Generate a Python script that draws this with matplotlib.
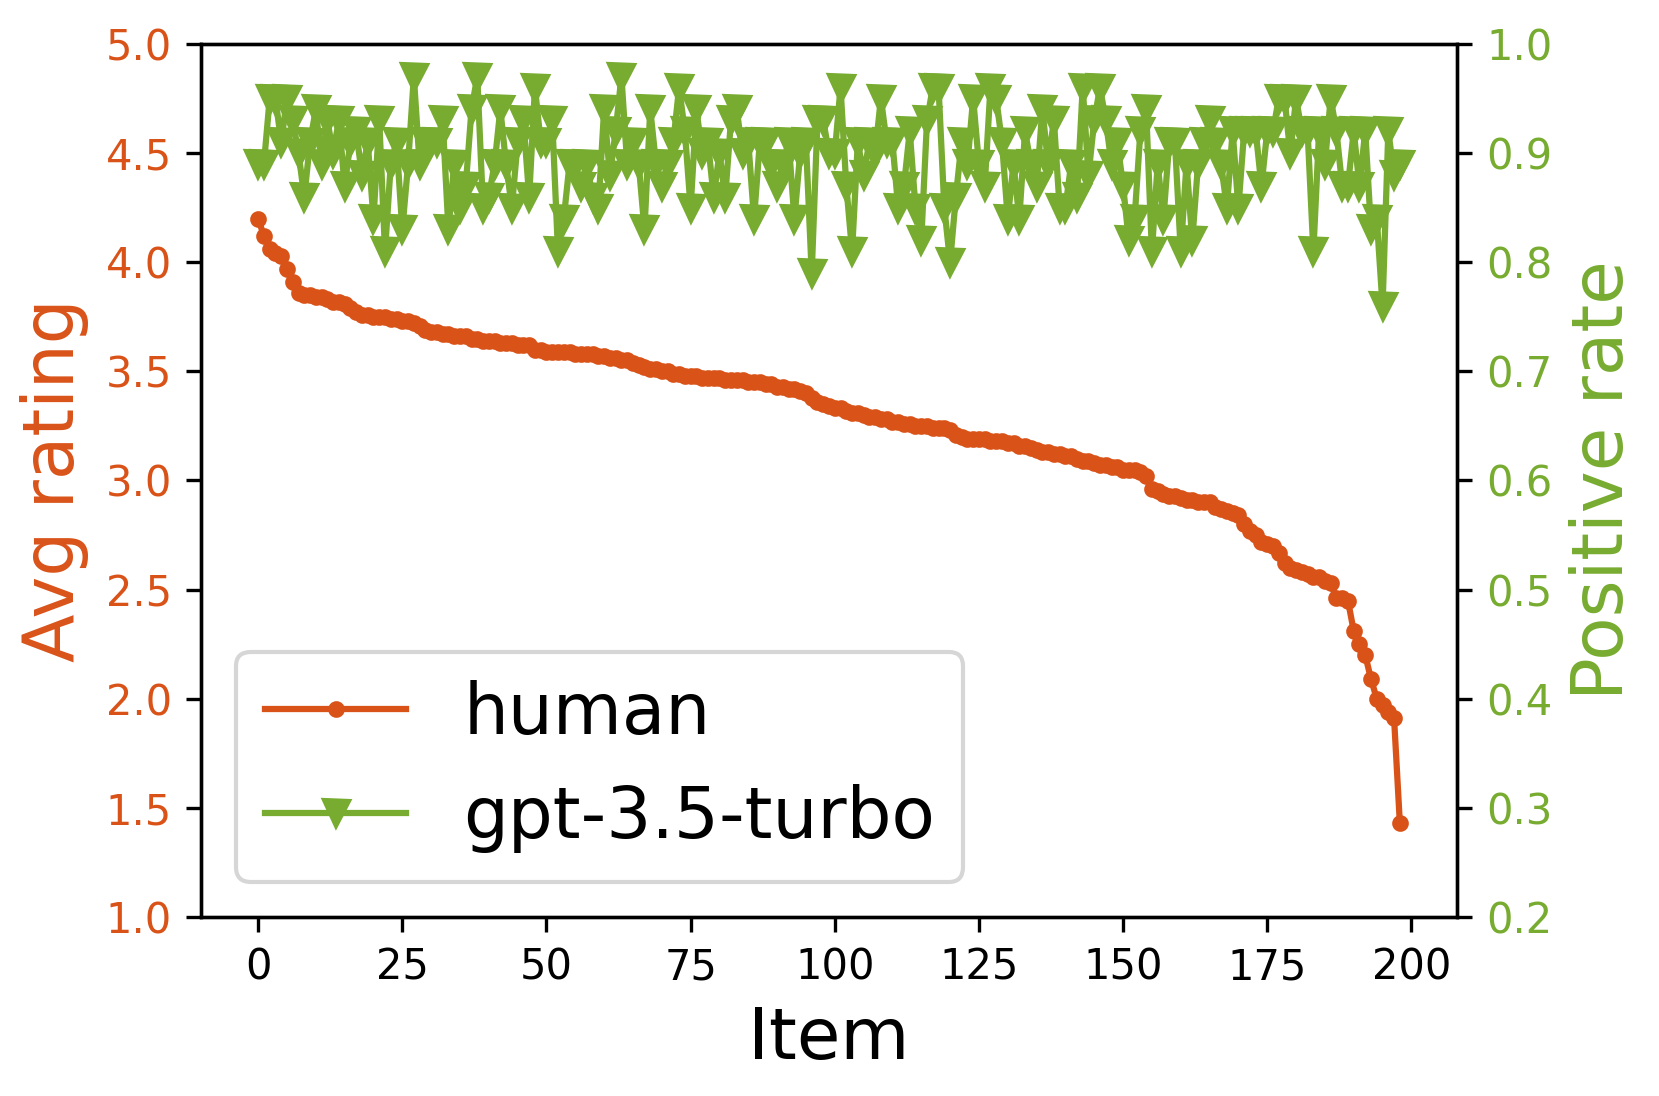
import matplotlib
matplotlib.use("Agg")
import matplotlib.pyplot as plt
import numpy as np

human = [
    4.20, 4.12, 4.06, 4.04, 4.03, 3.97, 3.91, 3.86, 3.85, 3.85,
    3.84, 3.84, 3.83, 3.82, 3.82, 3.81, 3.79, 3.77, 3.76, 3.76,
    3.75, 3.75, 3.75, 3.74, 3.74, 3.73, 3.73, 3.72, 3.71, 3.69,
    3.68, 3.68, 3.67, 3.67, 3.66, 3.66, 3.66, 3.65, 3.65, 3.64,
    3.64, 3.64, 3.63, 3.63, 3.63, 3.62, 3.62, 3.62, 3.60, 3.60,
    3.59, 3.59, 3.59, 3.59, 3.59, 3.58, 3.58, 3.58, 3.58, 3.57,
    3.57, 3.56, 3.56, 3.55, 3.55, 3.54, 3.53, 3.52, 3.51, 3.51,
    3.50, 3.50, 3.49, 3.49, 3.48, 3.48, 3.48, 3.47, 3.47, 3.47,
    3.47, 3.46, 3.46, 3.46, 3.46, 3.45, 3.45, 3.45, 3.44, 3.44,
    3.43, 3.43, 3.42, 3.42, 3.41, 3.40, 3.38, 3.36, 3.35, 3.34,
    3.33, 3.33, 3.32, 3.31, 3.31, 3.30, 3.29, 3.29, 3.28, 3.28,
    3.27, 3.27, 3.26, 3.26, 3.25, 3.25, 3.25, 3.24, 3.24, 3.24,
    3.23, 3.21, 3.20, 3.19, 3.19, 3.19, 3.19, 3.18, 3.18, 3.18,
    3.17, 3.17, 3.16, 3.16, 3.15, 3.14, 3.13, 3.13, 3.12, 3.12,
    3.11, 3.11, 3.10, 3.09, 3.09, 3.08, 3.07, 3.07, 3.06, 3.06,
    3.05, 3.05, 3.05, 3.04, 3.02, 2.96, 2.95, 2.94, 2.93, 2.93,
    2.92, 2.91, 2.91, 2.90, 2.90, 2.90, 2.88, 2.87, 2.86, 2.85,
    2.84, 2.80, 2.77, 2.75, 2.72, 2.71, 2.70, 2.67, 2.62, 2.60,
    2.59, 2.58, 2.57, 2.56, 2.56, 2.54, 2.53, 2.46, 2.46, 2.45,
    2.31, 2.25, 2.20, 2.09, 2.00, 1.97, 1.94, 1.91, 1.43,
]

gpt = [
    0.89, 0.89, 0.95, 0.95, 0.91, 0.95, 0.93, 0.90, 0.86, 0.91,
    0.94, 0.89, 0.93, 0.90, 0.93, 0.87, 0.91, 0.92, 0.88, 0.91,
    0.84, 0.93, 0.81, 0.89, 0.91, 0.83, 0.89, 0.97, 0.89, 0.91,
    0.91, 0.91, 0.93, 0.83, 0.89, 0.85, 0.87, 0.94, 0.97, 0.85,
    0.86, 0.89, 0.94, 0.89, 0.85, 0.91, 0.93, 0.86, 0.96, 0.91,
    0.91, 0.93, 0.81, 0.84, 0.89, 0.89, 0.87, 0.89, 0.86, 0.85,
    0.94, 0.88, 0.92, 0.97, 0.89, 0.91, 0.89, 0.83, 0.94, 0.89,
    0.87, 0.89, 0.91, 0.96, 0.92, 0.85, 0.94, 0.90, 0.91, 0.86,
    0.90, 0.86, 0.93, 0.94, 0.90, 0.91, 0.84, 0.91, 0.91, 0.89,
    0.87, 0.89, 0.91, 0.84, 0.90, 0.91, 0.79, 0.93, 0.93, 0.90,
    0.90, 0.96, 0.87, 0.81, 0.91, 0.88, 0.91, 0.90, 0.95, 0.91,
    0.91, 0.85, 0.87, 0.92, 0.85, 0.82, 0.93, 0.96, 0.96, 0.85,
    0.80, 0.86, 0.91, 0.89, 0.95, 0.89, 0.87, 0.96, 0.95, 0.91,
    0.84, 0.89, 0.84, 0.92, 0.89, 0.87, 0.94, 0.89, 0.93, 0.85,
    0.85, 0.89, 0.86, 0.96, 0.88, 0.93, 0.96, 0.93, 0.89, 0.91,
    0.87, 0.82, 0.84, 0.92, 0.94, 0.81, 0.89, 0.84, 0.91, 0.91,
    0.81, 0.89, 0.82, 0.89, 0.91, 0.93, 0.91, 0.89, 0.85, 0.92,
    0.85, 0.92, 0.92, 0.92, 0.87, 0.92, 0.92, 0.95, 0.95, 0.90,
    0.95, 0.92, 0.92, 0.81, 0.92, 0.89, 0.95, 0.92, 0.87, 0.87,
    0.92, 0.87, 0.92, 0.83, 0.84, 0.76, 0.92, 0.88, 0.89,
]

items = np.arange(len(human))

c_human = "#D95319"
c_gpt = "#77AC30"
fs_big = 17

fig = plt.figure(figsize=(1659 / 300, 1096 / 300), dpi=300)
ax = fig.add_axes([0.1212, 0.1633, 0.8782 - 0.1212, 0.9599 - 0.1633])
ax2 = ax.twinx()

l1, = ax.plot(items, human, color=c_human, marker=".", label="human")
l2, = ax2.plot(items, gpt, color=c_gpt, marker="v", label="gpt-3.5-turbo")

ax.set_ylim(1.0, 5.0)
ax.set_yticks(np.arange(1.0, 5.01, 0.5))
ax2.set_ylim(0.2, 1.0)
ax2.set_yticks(np.arange(0.2, 1.01, 0.1))
ax.set_xticks([0, 25, 50, 75, 100, 125, 150, 175, 200])

ax.tick_params(axis="both", labelsize=10)
ax.tick_params(axis="y", labelcolor=c_human)
ax2.tick_params(axis="y", labelsize=10, labelcolor=c_gpt)

ax.set_xlabel("Item", fontsize=fs_big)
ax.set_ylabel("Avg rating", fontsize=fs_big, color=c_human)
ax2.set_ylabel("Positive rate", fontsize=fs_big, color=c_gpt)

ax2.legend(handles=[l1, l2], loc="lower left", fontsize=fs_big)

fig.savefig("out.png", dpi=300)
